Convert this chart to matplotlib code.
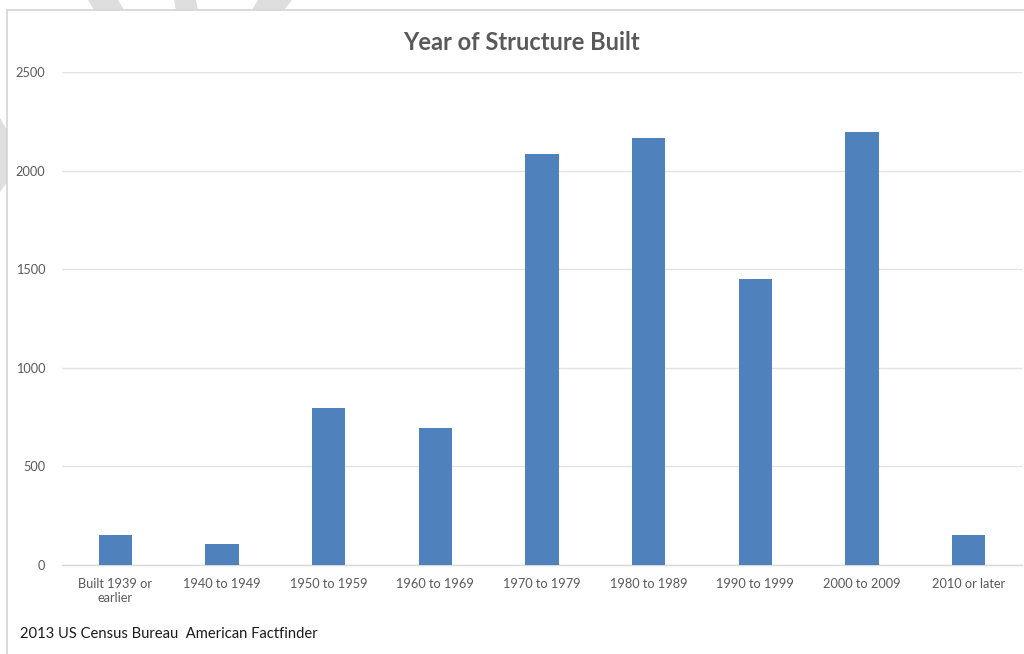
import matplotlib
matplotlib.use("Agg")
import matplotlib.pyplot as plt
from matplotlib.patches import Polygon
from matplotlib.lines import Line2D

categories = ["Built 1939 or\nearlier", "1940 to 1949", "1950 to 1959", "1960 to 1969",
              "1970 to 1979", "1980 to 1989", "1990 to 1999", "2000 to 2009", "2010 or later"]
units = [150, 104, 796, 695, 2086, 2166, 1450, 2195, 150]
y_ticks = [0, 500, 1000, 1500, 2000, 2500]

title = "Year of Structure Built"
source = "2013 US Census Bureau  American Factfinder"

W, H = 1024, 654
fig = plt.figure(figsize=(W / 100, H / 100), dpi=100)
fig.patch.set_facecolor("white")
plt.rcParams["font.family"] = ["Lato", "DejaVu Sans"]

# faint diagonal background bands outside the chart frame
band = "#dedede"
bands = [
    [(88, 0), (118, 0), (124, 10), (94, 10)],
    [(174, 0), (196, 0), (198, 10), (176, 10)],
    [(258, 0), (292, 0), (284, 10), (252, 10)],
    [(0, 118), (7, 130), (7, 182), (0, 192)],
]
for pts in bands:
    fig.patches.append(Polygon([(x / W, 1 - y / H) for x, y in pts], closed=True,
                               transform=fig.transFigure, facecolor=band,
                               edgecolor="none", zorder=0))

# chart frame: only the top and left edges fall inside the image
frame_kw = dict(transform=fig.transFigure, color="#d4d4d4", linewidth=1.2, zorder=1)
fig.lines.append(Line2D([7 / W, 1.0], [1 - 10 / H, 1 - 10 / H], **frame_kw))
fig.lines.append(Line2D([7 / W, 7 / W], [0.0, 1 - 10 / H], **frame_kw))

ax = fig.add_axes([62 / W, 1 - 565 / H, 960 / W, 493 / H])
ax.set_facecolor("none")
ax.set_zorder(2)

x = range(len(categories))
ax.bar(x, units, width=0.31, color="#4F81BD", zorder=3)

ax.set_xlim(-0.5, len(categories) - 0.5)
ax.set_ylim(0, 2500)
ax.set_yticks(y_ticks)
ax.set_yticklabels([str(v) for v in y_ticks])
ax.set_xticks(list(x))
ax.set_xticklabels(categories, linespacing=1.3)

ax.yaxis.grid(True, color="#e3e3e3", linewidth=1.0, zorder=0)
ax.set_axisbelow(True)
for s in ["top", "right", "left"]:
    ax.spines[s].set_visible(False)
ax.spines["bottom"].set_color("#d9d9d9")
ax.spines["bottom"].set_linewidth(1.0)

ax.tick_params(axis="both", length=0, labelsize=9.2, labelcolor="#595959")
ax.tick_params(axis="y", pad=12)
ax.tick_params(axis="x", pad=9)

fig.text(521 / W, 1 - 42 / H, title, ha="center", va="center",
         fontsize=17, fontweight="bold", color="#595959", zorder=5)
fig.text(20 / W, 1 - 634 / H, source, ha="left", va="center",
         fontsize=10.6, color="#1a1a1a", zorder=5)

fig.savefig("out.png", dpi=100, facecolor="white")
